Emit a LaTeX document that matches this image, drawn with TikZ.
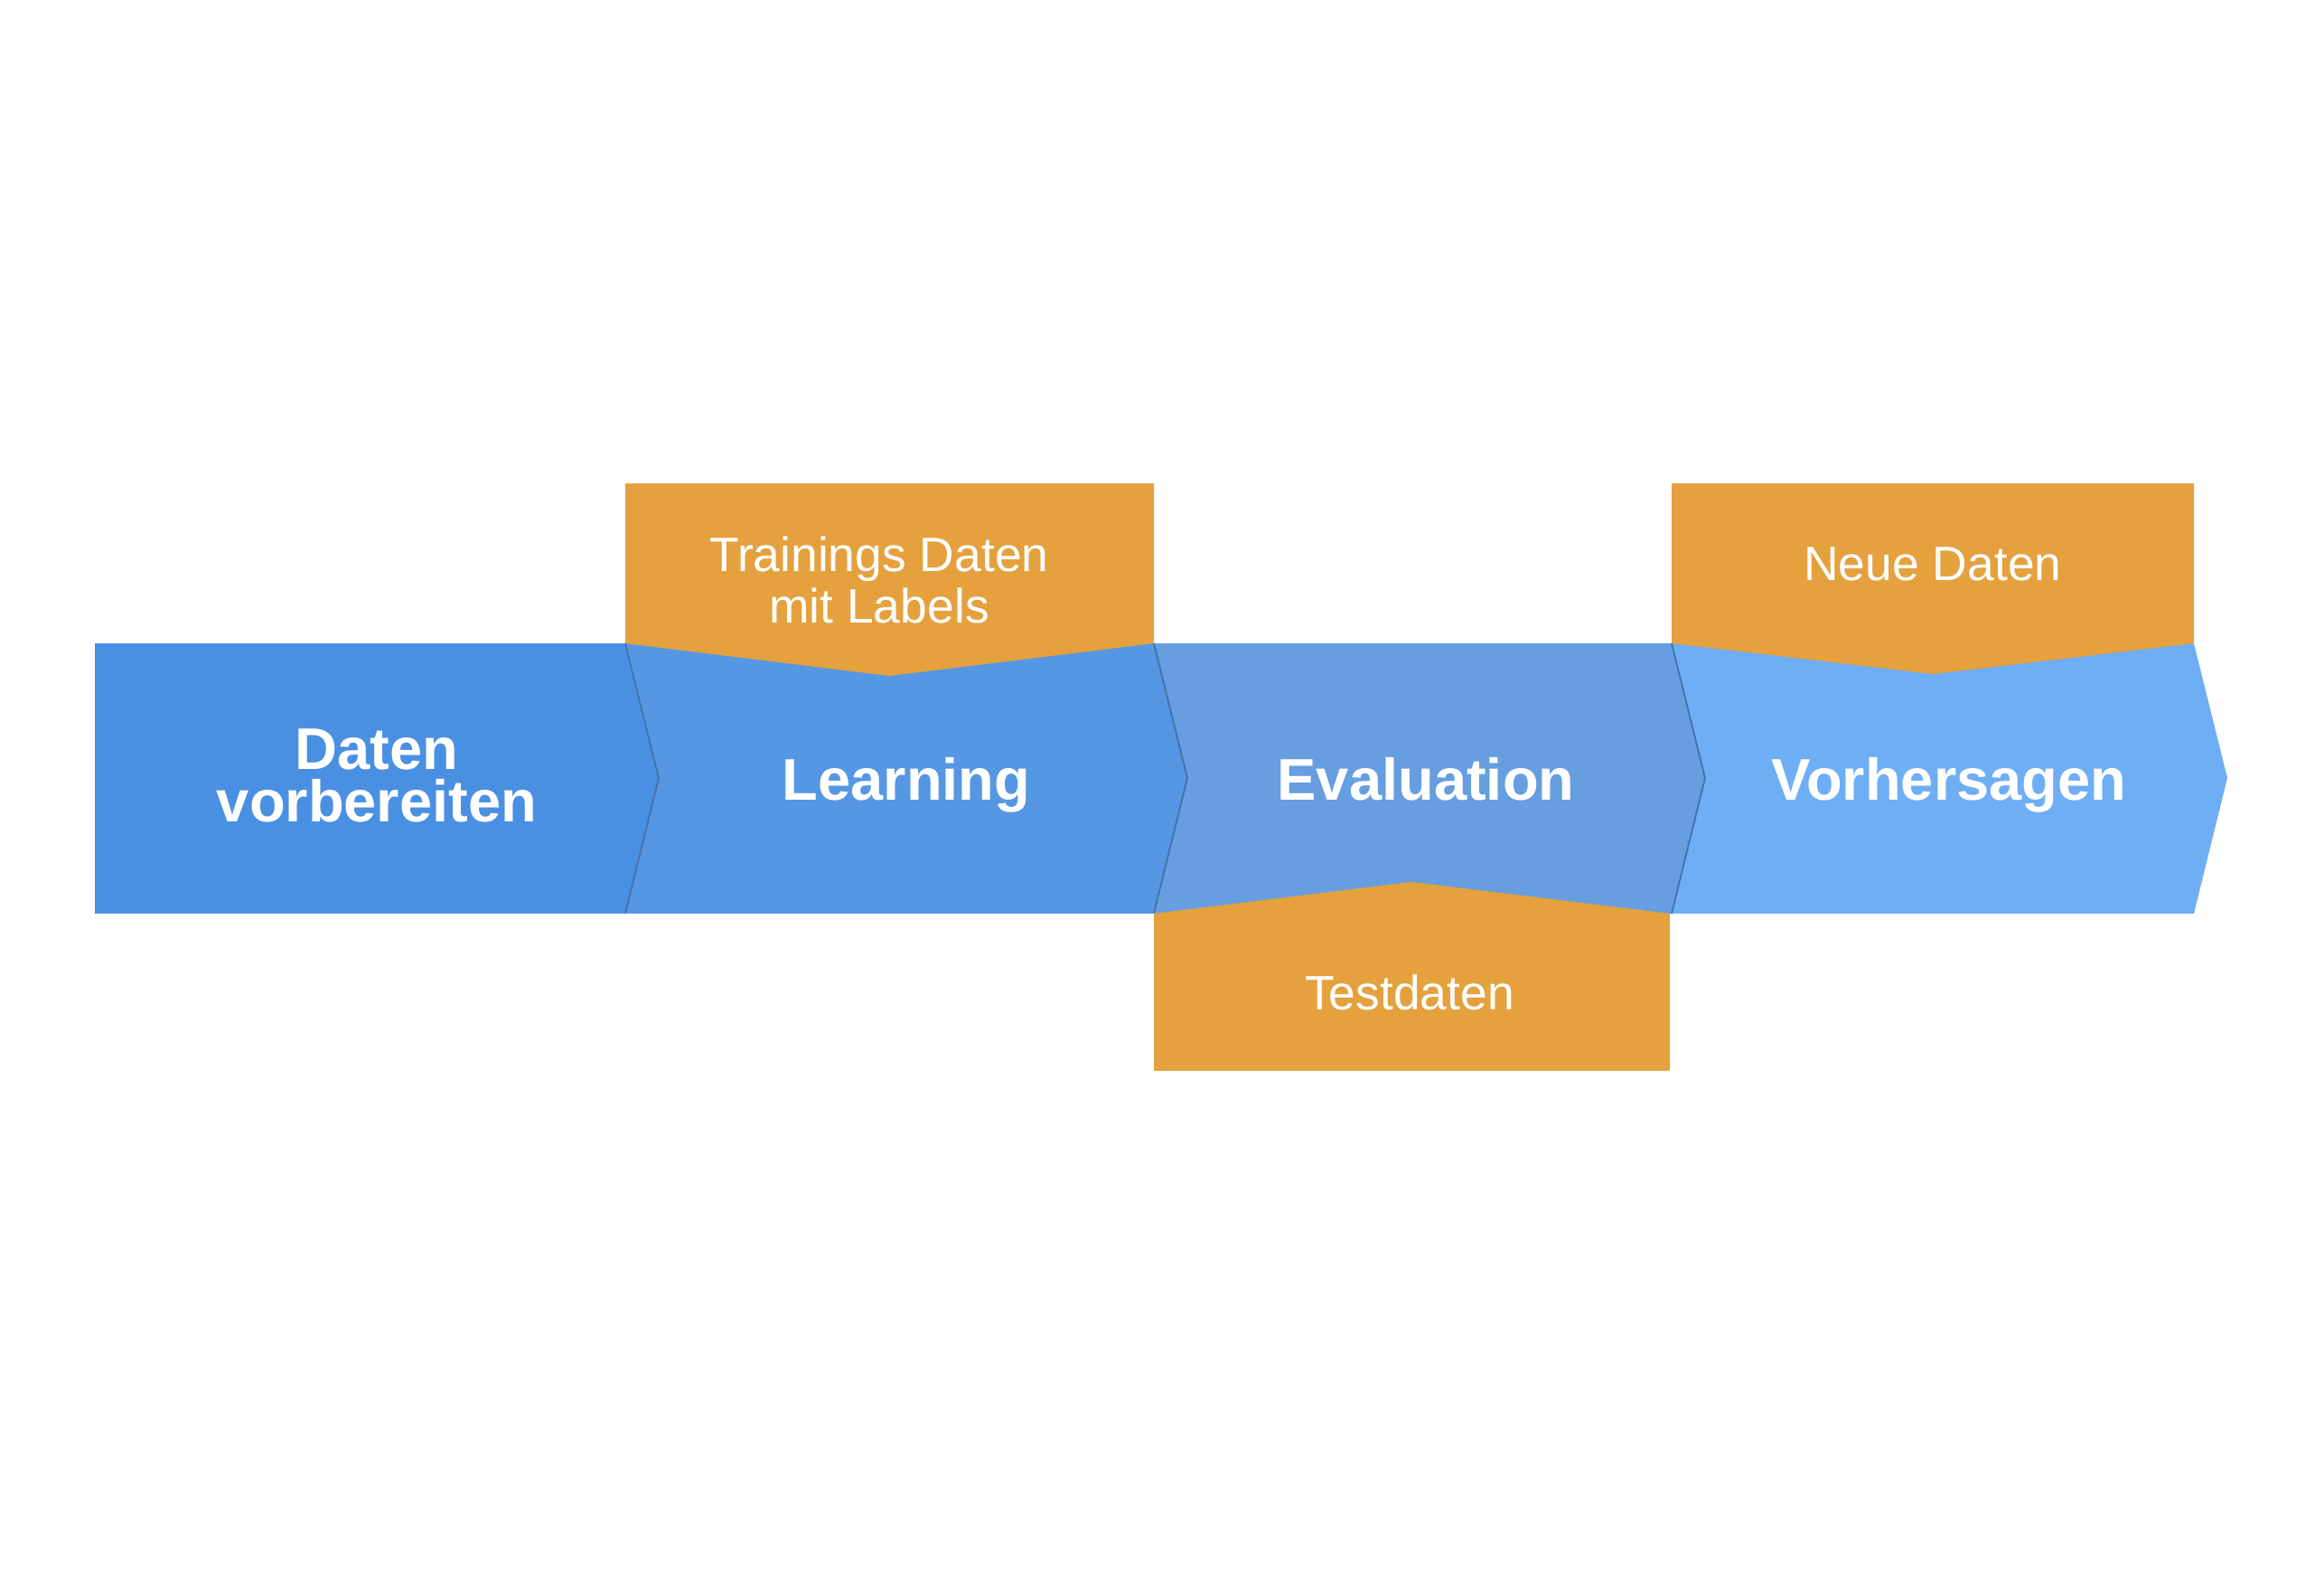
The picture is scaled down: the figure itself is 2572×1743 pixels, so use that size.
\documentclass[tikz,border=0pt]{standalone}
\usepackage{fontspec}
\setmainfont{Liberation Sans}
\definecolor{cA}{RGB}{74,144,226}
\definecolor{cB}{RGB}{86,151,227}
\definecolor{cC}{RGB}{102,158,224}
\definecolor{cD}{RGB}{110,174,245}
\definecolor{cO}{RGB}{228,161,61}
\tikzset{
  seam/.style={line width=0.5pt, line join=miter, draw=black!25!cB},
  databox/.style={fill=cO},
  stagetext/.style={text=white, font=\fontsize{18.5}{16.5}\selectfont\bfseries, align=center, inner sep=0pt},
  datatext/.style={text=white, font=\fontsize{15.2}{16}\selectfont, align=center, inner sep=0pt}
}
\begin{document}
\begin{tikzpicture}[x=0.01cm,y=-0.01cm]
\useasboundingbox (0,0) rectangle (2572,1743);
\fill[white] (0,0) rectangle (2572,1743);
% blue stages
\fill[cA] (105,712) -- (692,712) -- (729,861) -- (692,1011) -- (105,1011) -- cycle;
\fill[cB] (692,712) -- (1277,712) -- (1314,861) -- (1277,1011) -- (692,1011) -- (729,861) -- cycle;
\fill[cC] (1277,712) -- (1850,712) -- (1887,861) -- (1850,1011) -- (1277,1011) -- (1314,861) -- cycle;
\fill[cD] (1850,712) -- (2428,712) -- (2465,861) -- (2428,1011) -- (1850,1011) -- (1887,861) -- cycle;
% seams between stages
\draw[seam] (692,712) -- (729,861) -- (692,1011);
\draw[seam] (1277,712) -- (1314,861) -- (1277,1011);
\draw[seam] (1850,712) -- (1887,861) -- (1850,1011);
% orange data boxes
\path[databox] (692,535) -- (1277,535) -- (1277,712) -- (984,748) -- (692,712) -- cycle;
\path[databox] (1850,535) -- (2428,535) -- (2428,712) -- (2139,746) -- (1850,712) -- cycle;
\path[databox] (1277,1011) -- (1562,976) -- (1848,1011) -- (1848,1185) -- (1277,1185) -- cycle;
% texts
\node[stagetext] (daten) at (417,858) {Daten\\vorbereiten};
\node[stagetext, anchor=base] (learning) at (1003,886) {Learning};
\node[stagetext, anchor=base] (evaluation) at (1578,886) {Evaluation};
\node[stagetext, anchor=base] (vorhersagen) at (2157,886) {Vorhersagen};
\node[datatext] (training) at (973,642) {Trainings Daten\\mit Labels};
\node[datatext, anchor=base] (neue) at (2139,643) {Neue Daten};
\node[datatext, anchor=base] (test) at (1560,1117) {Testdaten};
\end{tikzpicture}
\end{document}
